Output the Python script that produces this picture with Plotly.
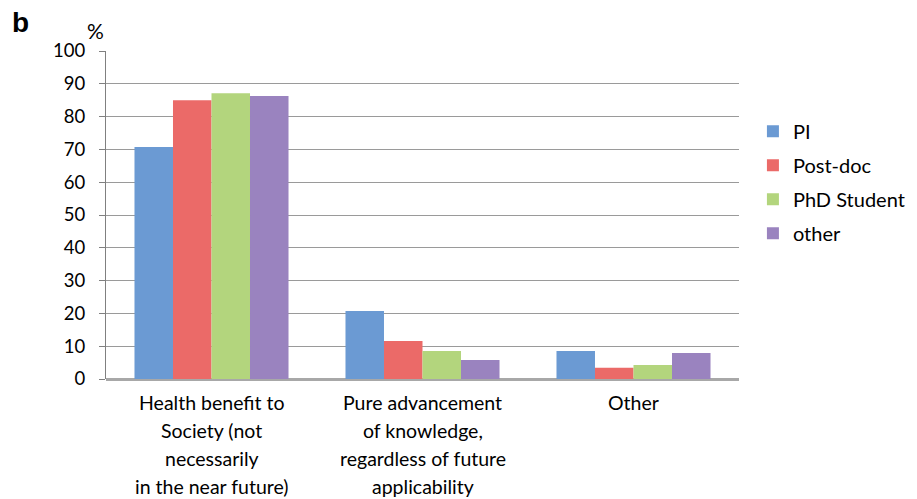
import plotly.graph_objects as go

categories = ["Health", "Pure", "Other"]
category_label_lines = [
    ["Health benefit to", "Society (not", "necessarily", "in the near future)"],
    ["Pure advancement", "of knowledge,", "regardless of future", "applicability"],
    ["Other"],
]
series_names = ["PI", "Post-doc", "PhD Student", "other"]
pi_vals = [70.7, 20.7, 8.5]
postdoc_vals = [85.0, 11.6, 3.4]
phd_vals = [87.1, 8.5, 4.3]
other_vals = [86.3, 5.8, 7.9]
y_ticks = [0, 10, 20, 30, 40, 50, 60, 70, 80, 90, 100]

colors = ["#6b9ad3", "#eb6a68", "#b3d57d", "#9a83bf"]
values = [pi_vals, postdoc_vals, phd_vals, other_vals]

fig = go.Figure()
for name, vals, col in zip(series_names, values, colors):
    fig.add_trace(go.Bar(x=categories, y=vals, name=name, legendgroup=name,
                         marker=dict(color=col, line=dict(width=0))))

font_family = "Lato, 'Open Sans', sans-serif"
W, H = 917, 499
L, R, T, B = 106, 178, 51, 120
pw, ph = W - L - R, H - T - B

annotations = [
    dict(text="<b>b</b>", x=(10 - L) / pw, y=(H - 22 - B) / ph, xref="paper", yref="paper",
         xanchor="left", yanchor="middle", showarrow=False,
         font=dict(size=28, family="'Liberation Sans', Arial, sans-serif")),
    dict(text="%", x=(95 - L) / pw, y=(H - 30 - B) / ph, xref="paper", yref="paper",
         xanchor="center", yanchor="middle", showarrow=False, font=dict(size=21)),
]
line_offsets = [23, 51, 79, 107]
for cat, lines in zip(categories, category_label_lines):
    for i, line in enumerate(lines):
        annotations.append(dict(text=line, x=cat, y=0, xref="x", yref="y",
                                xanchor="center", yanchor="middle",
                                yshift=-line_offsets[i], showarrow=False,
                                font=dict(size=19.5)))

fig.update_layout(
    width=W, height=H,
    margin=dict(l=L, r=R, t=T, b=B, autoexpand=False),
    paper_bgcolor="white", plot_bgcolor="white",
    barmode="group", bargap=0.27, bargroupgap=0,
    font=dict(family=font_family, size=18, color="black"),
    showlegend=True,
    legend=dict(x=1.022, y=0.815, xanchor="left", yanchor="top",
                font=dict(size=20), itemwidth=30, tracegroupgap=5,
                bgcolor="rgba(0,0,0,0)"),
    xaxis=dict(showline=False, ticks="", showticklabels=False, showgrid=False),
    yaxis=dict(range=[0, 100], tickvals=y_ticks, showgrid=True,
               gridcolor="#9a9a9a", gridwidth=1.2,
               showline=True, linecolor="#808080", linewidth=1.2,
               ticks="outside", ticklen=6, tickcolor="#808080",
               ticklabelstandoff=10,
               tickfont=dict(size=18.5), zeroline=True, zerolinecolor="#a8a8a8",
               zerolinewidth=2.5),
    annotations=annotations,
)

fig.write_html("out.html", config={"displayModeBar": False},
               post_script="document.body.style.margin='0px';document.body.style.overflow='hidden';")
